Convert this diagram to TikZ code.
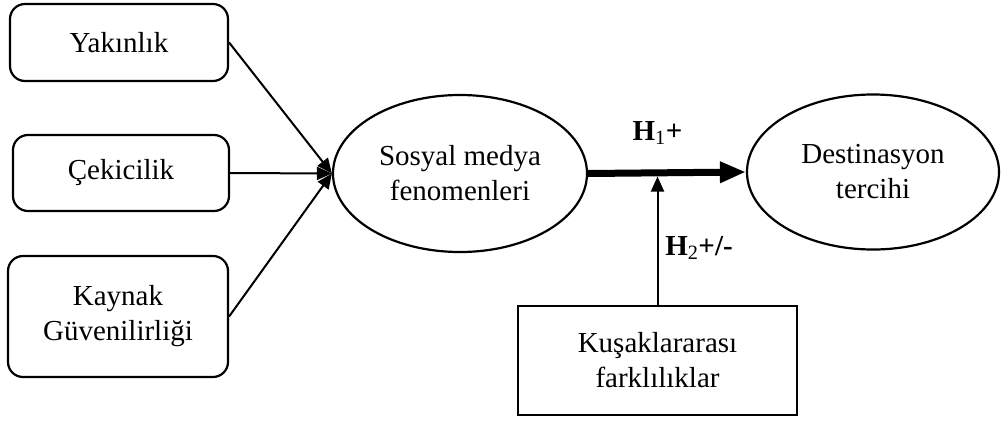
\documentclass[tikz,border=0pt]{standalone}
\usepackage{fontspec}
\setmainfont{Liberation Serif}
\usetikzlibrary{shapes.geometric,arrows.meta}
\begin{document}
\begin{tikzpicture}[x=1pt,y=-1pt,
  every node/.style={font=\fontsize{29}{35}\selectfont, align=center, inner sep=0pt},
  rbox/.style={draw, line width=2.2pt, rounded corners=15pt},
  sbox/.style={draw, line width=2.2pt},
  ell/.style={draw, ellipse, line width=2.2pt},
  conn/.style={line width=2pt, -{Triangle[length=15pt,width=13pt]}},
  thick arrow/.style={line width=7pt, -{Triangle[length=26pt,width=20pt]}},
  hlabel/.style={font=\fontsize{29}{35}\selectfont\bfseries}
]
\useasboundingbox (0,0) rectangle (1002,421);
\node[rbox, minimum width=218pt, minimum height=77pt] (yak) at (119,42.5) {Yakınlık};
\node[rbox, minimum width=216pt, minimum height=76pt] (cek) at (121,173) {Çekicilik};
\node[rbox, minimum width=220pt, minimum height=121pt] (kay) at (118,316.5) {Kaynak\\Güvenilirliği};
\node[ell, minimum width=254pt, minimum height=157pt] (smf) at (460,173.5) {Sosyal medya\\fenomenleri};
\node[ell, minimum width=252pt, minimum height=155pt] (dest) at (873,172) {Destinasyon\\tercihi};
\node[sbox, minimum width=279pt, minimum height=109pt] (kus) at (657.5,360.5) {Kuşaklararası\\farklılıklar};
\draw[conn] (yak.east) -- (smf.west);
\draw[conn] (cek.east) -- (smf.west);
\draw[conn] (kay.east) -- (smf.west);
\draw[thick arrow] (smf.east) -- (dest.west);
\coordinate (m) at (kus.north |- smf.east);
\draw[conn, shorten >=3pt] (kus.north) -- (m);
\node[hlabel] (h1) at (657.5,133) {H\textsubscript{\mdseries 1}+};
\node[hlabel] (h2) at (699,248) {H\textsubscript{\mdseries 2}+/-};
\end{tikzpicture}
\end{document}
